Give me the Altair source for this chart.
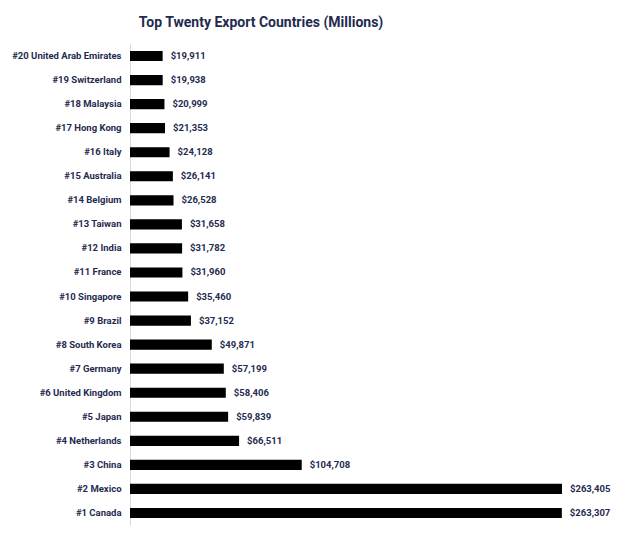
import altair as alt
import pandas as pd

countries = ["#20 United Arab Emirates", "#19 Switzerland", "#18 Malaysia", "#17 Hong Kong",
             "#16 Italy", "#15 Australia", "#14 Belgium", "#13 Taiwan", "#12 India",
             "#11 France", "#10 Singapore", "#9 Brazil", "#8 South Korea", "#7 Germany",
             "#6 United Kingdom", "#5 Japan", "#4 Netherlands", "#3 China", "#2 Mexico",
             "#1 Canada"]
values = [19911, 19938, 20999, 21353, 24128, 26141, 26528, 31658, 31782, 31960,
          35460, 37152, 49871, 57199, 58406, 59839, 66511, 104708, 263405, 263307]

df = pd.DataFrame({"country": countries, "value": values})
df["label"] = df["value"].map(lambda v: f"${v:,}")

NAVY = "#1f2b4f"
FONT = "Roboto"

y = alt.Y("country:N", sort=countries, title=None,
          scale=alt.Scale(paddingInner=0.58, paddingOuter=0.29),
          axis=alt.Axis(labelFont=FONT, labelFontWeight="bold", labelFontSize=9.5,
                        labelColor=NAVY, ticks=False, domainColor="#d9d9d9",
                        labelPadding=9, grid=False))
x = alt.X("value:Q", title=None, scale=alt.Scale(domain=[0, 300000]), axis=None)

bars = alt.Chart(df).mark_bar(color="black").encode(x=x, y=y)
text = alt.Chart(df).mark_text(align="left", baseline="middle", dx=8, font=FONT,
                               fontWeight="bold", fontSize=9.5, color=NAVY).encode(
    x=x, y=y, text="label:N")

chart = (bars + text).properties(
    width=492, height=481,
    background="white",
    title=alt.TitleParams("Top Twenty Export Countries (Millions)", font=FONT, fontSize=14,
                          fontWeight="bold", color=NAVY, anchor="middle", frame="group",
                          dx=-115, offset=14),
    autosize=alt.AutoSizeParams(type="none"),
    padding={"left": 130, "top": 44, "right": 17, "bottom": 14},
).configure_view(stroke=None)

chart.save("out.html", embed_options={"renderer": "svg", "actions": False})
